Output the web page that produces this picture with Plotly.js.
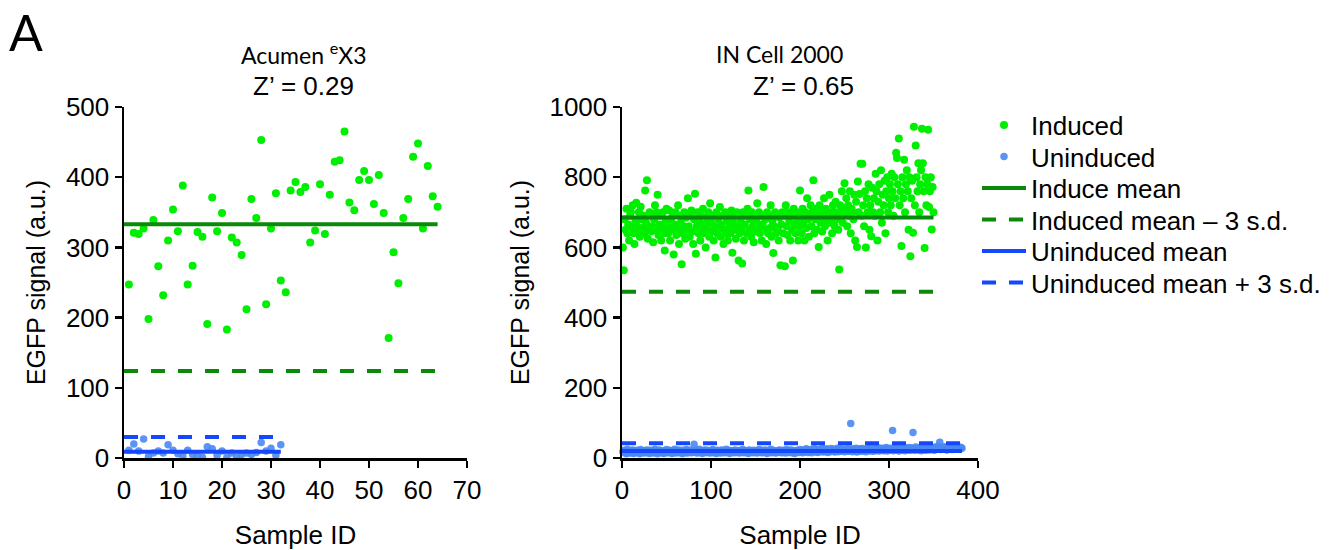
<!DOCTYPE html>
<html>
<head>
<meta charset="utf-8">
<script src="https://cdn.plot.ly/plotly-3.0.1.min.js"></script>
<style>html,body{margin:0;padding:0;background:#fff;}#chart{width:1335px;height:550px;}</style>
</head>
<body>
<div id="chart"></div>
<script>
// ---------- Data ----------
// Left panel: Acumen eX3
const acumenInduced = [247, 321, 319, 327, 198, 339, 273, 232, 310, 354,
  323, 388, 247, 274, 322, 315, 191, 371, 323, 349,
  183, 314, 307, 289, 212, 369, 342, 453, 219, 327,
  377, 253, 236, 381, 393, 379, 386, 307, 324, 390,
  319, 375, 422, 424, 465, 364, 353, 396, 409, 396,
  362, 403, 349, 171, 293, 249, 342, 369, 429, 448,
  327, 416, 373, 358];
const acumenUninduced = [11, 20, 10, 27, 2, 7, 10, 7, 19, 11, 6, 3, 11, 5, 3, 1,
  16, 13, 4, 10, 1, 7, 1, 5, 7, 5, 8, 22, 10, 14, 4, 19];
const acumenInducedMean = 333;
const acumenInducedMinus3sd = 124;
const acumenUninducedMean = 9;
const acumenUninducedPlus3sd = 30;

// Right panel: IN Cell 2000
const incellInduced = [
  600, 535, 680, 650, 710, 640, 665, 620, 690, 700, 655, 720, 640, 610, 675, 727, 660, 645, 700, 630, 716, 680, 655, 690, 640,
  762, 670, 791, 625, 650, 700, 690, 645, 660, 615, 680, 720, 650, 700, 750, 635, 665, 690, 620, 655, 700, 640, 591, 675, 710,
  660, 640, 705, 620, 680, 650, 690, 580, 665, 700, 635, 655, 720, 610, 690, 670, 552, 640, 660, 700, 625, 685, 650, 740, 660,
  630, 690, 705, 645, 610, 680, 753, 582, 660, 700, 640, 675, 620, 690, 655, 710, 640, 665, 600, 685, 650, 700, 630, 726, 670,
  645, 690, 620, 660, 571, 700, 640, 680, 655, 715, 630, 665, 690, 610, 650, 700, 640, 675, 620, 690, 660, 640, 705, 585, 670,
  650, 690, 625, 700, 660, 563, 640, 680, 655, 554, 700, 620, 665, 690, 640, 710, 762, 650, 680, 630, 700, 660, 615, 690, 645,
  675, 726, 655, 700, 640, 690, 620, 665, 772, 650, 680, 610, 700, 640, 690, 655, 720, 630, 675, 584, 660, 700, 640, 690, 650,
  620, 685, 549, 665, 700, 640, 690, 546, 720, 660, 635, 700, 675, 620, 690, 650, 563, 710, 665, 640, 700, 680, 620, 660, 762,
  690, 640, 710, 670, 620, 700, 655, 740, 680, 630, 690, 720, 660, 700, 791, 640, 680, 710, 650, 690, 601, 720, 670, 700, 645,
  690, 740, 660, 710, 680, 620, 700, 750, 670, 690, 640, 720, 700, 660, 730, 680, 700, 650, 537, 720, 690, 760, 670, 710, 783,
  700, 740, 660, 720, 690, 760, 640, 710, 700, 680, 750, 620, 730, 601, 788, 700, 752, 838, 690, 838, 720, 660, 760, 600, 740,
  700, 780, 650, 720, 632, 770, 700, 740, 690, 810, 760, 620, 730, 780, 700, 820, 670, 750, 720, 790, 640, 760, 800, 700, 740,
  780, 720, 810, 760, 690, 800, 740, 870, 855, 780, 910, 720, 760, 604, 800, 740, 850, 700, 780, 820, 760, 650, 800, 575, 740,
  790, 642, 944, 720, 890, 800, 760, 840, 700, 780, 820, 938, 840, 760, 598, 800, 720, 780, 935, 715, 760, 800, 651, 772, 700];
const incellUninduced = [
  18, 22, 15, 20, 12, 25, 17, 19, 14, 21, 16, 23, 13, 18, 20, 15, 22, 17, 19, 12, 24, 16, 18, 21, 14,
  20, 17, 23, 15, 19, 13, 22, 18, 16, 21, 14, 25, 17, 20, 12, 19, 23, 16, 18, 15, 21, 13, 20, 17, 24,
  15, 19, 22, 16, 18, 13, 21, 17, 25, 14, 20, 18, 23, 15, 19, 16, 22, 12, 18, 20, 17, 24, 14, 21, 16,
  19, 23, 15, 18, 20, 39, 17, 22, 14, 19, 16, 25, 18, 21, 13, 20, 17, 23, 15, 19, 22, 16, 18, 14, 21,
  17, 24, 15, 20, 18, 13, 22, 16, 19, 21, 14, 23, 17, 20, 15, 18, 25, 16, 19, 22, 13, 18, 21, 17, 20,
  15, 23, 18, 16, 21, 19, 14, 22, 17, 20, 24, 15, 18, 21, 16, 19, 13, 23, 17, 20, 18, 15, 22, 16, 19,
  21, 14, 18, 24, 17, 20, 15, 22, 19, 16, 23, 18, 13, 21, 17, 20, 25, 15, 19, 22, 16, 18, 14, 21, 17,
  20, 23, 16, 19, 15, 22, 18, 21, 14, 24, 17, 20, 16, 19, 23, 15, 18, 21, 13, 20, 17, 22, 19, 16, 24,
  18, 21, 15, 23, 19, 17, 26, 20, 16, 22, 18, 24, 15, 21, 19, 27, 17, 23, 20, 16, 25, 18, 22, 19, 28,
  17, 24, 21, 19, 26, 16, 23, 20, 18, 27, 22, 19, 25, 17, 24, 21, 28, 18, 23, 20, 26, 19, 22, 25, 18,
  24, 21, 27, 19, 23, 20, 98, 26, 18, 22, 25, 20, 28, 17, 24, 21, 26, 19, 23, 27, 20, 25, 22, 18, 26,
  23, 28, 20, 25, 22, 30, 19, 24, 27, 21, 26, 23, 29, 20, 25, 22, 28, 24, 21, 27, 23, 30, 20, 26, 24,
  22, 28, 25, 78, 21, 27, 24, 30, 23, 26, 20, 29, 25, 22, 31, 24, 27, 21, 28, 25, 23, 30, 26, 22, 29,
  24, 73, 27, 22, 31, 25, 28, 23, 30, 26, 21, 29, 24, 32, 27, 22, 28, 25, 31, 23, 27, 30, 24, 29, 26,
  22, 31, 28, 25, 33, 27, 45, 24, 30, 26, 29, 32, 25, 28, 23, 31, 27, 34, 26, 29, 24, 32, 28, 30, 25,
  33, 27, 29, 31, 26, 30, 28];
const incellInducedMean = 685;
const incellInducedMinus3sd = 474;
const incellUninducedMean = 20;
const incellUninducedPlus3sd = 42;

// Panel titles and labels
const panelTitles = ['Acumen <sup>e</sup>X3', 'IN Cell 2000'];
const panelZ = ["Z\u2019 = 0.29", "Z\u2019 = 0.65"];
const seriesNames = ['Induced', 'Uninduced', 'Induce mean', 'Induced mean \u2013 3 s.d.', 'Uninduced mean', 'Uninduced mean + 3 s.d.'];

// ---------- Styling ----------
const W = 1335, H = 550;
const GREEN_PT = '#00ee00', BLUE_PT = '#4a88f2';
const GREEN_LN = '#0a8a0a', BLUE_LN = '#1447ff';
const FONT = 'Arial, Liberation Sans, sans-serif';
const ids = arr => arr.map((_, i) => i + 1);
const span = arr => [0, arr.length];
const legendIds = ['legend', 'legend2', 'legend3', 'legend4', 'legend5', 'legend6'];
const legendRowY = [125, 156.5, 188, 219.5, 251, 282.5];

function panelTraces(ind, unind, iMean, iLow, uMean, uHigh, xa, ya, show) {
  const sx = ids(ind), ux = ids(unind);
  const tr = [
    {x: sx, y: ind, mode: 'markers', marker: {color: GREEN_PT, size: 8}, cliponaxis: false},
    {x: ux, y: unind, mode: 'markers', marker: {color: BLUE_PT, size: 7.5, opacity: 0.9}, cliponaxis: false},
    {x: span(ind), y: [iMean, iMean], mode: 'lines', line: {color: GREEN_LN, width: 4}},
    {x: span(ind), y: [iLow, iLow], mode: 'lines', line: {color: GREEN_LN, width: 4, dash: '14px,13px'}},
    {x: span(unind), y: [uMean, uMean], mode: 'lines', line: {color: BLUE_LN, width: 4}},
    {x: span(unind), y: [uHigh, uHigh], mode: 'lines', line: {color: BLUE_LN, width: 4, dash: '14px,13px'}}
  ];
  return tr.map((t, i) => Object.assign(t, {type: 'scatter', xaxis: xa, yaxis: ya, name: seriesNames[i],
    showlegend: show, legend: legendIds[i]}));
}

const data = [
  ...panelTraces(acumenInduced, acumenUninduced, acumenInducedMean, acumenInducedMinus3sd, acumenUninducedMean, acumenUninducedPlus3sd, 'x', 'y', true),
  ...panelTraces(incellInduced, incellUninduced, incellInducedMean, incellInducedMinus3sd, incellUninducedMean, incellUninducedPlus3sd, 'x2', 'y2', false)
];

const axisBase = {
  showline: true, linecolor: '#000', linewidth: 2.5, ticks: 'outside', ticklen: 7, tickwidth: 2.5, tickcolor: '#000',
  showgrid: false, zeroline: false, tickfont: {family: FONT, size: 26, color: '#000'}, fixedrange: true
};
const yDom = [(H - 458) / H, (H - 107) / H];

const layout = {
  width: W, height: H,
  margin: {l: 0, r: 0, t: 0, b: 0},
  paper_bgcolor: '#fff', plot_bgcolor: '#fff',
  font: {family: FONT, color: '#000'},
  showlegend: true,
  xaxis: Object.assign({}, axisBase, {domain: [124 / W, 467 / W], range: [0, 70], dtick: 10, tick0: 0, anchor: 'y',
    title: {text: 'Sample ID', font: {family: FONT, size: 26}, standoff: 22}}),
  yaxis: Object.assign({}, axisBase, {domain: yDom, range: [0, 500], dtick: 100, tick0: 0, anchor: 'x',
    title: {text: 'EGFP signal (a.u.)', font: {family: FONT, size: 25}, standoff: 13}}),
  xaxis2: Object.assign({}, axisBase, {domain: [622 / W, 978 / W], range: [0, 400], dtick: 100, tick0: 0, anchor: 'y2',
    title: {text: 'Sample ID', font: {family: FONT, size: 26}, standoff: 22}}),
  yaxis2: Object.assign({}, axisBase, {domain: yDom, range: [0, 1000], dtick: 200, tick0: 0, anchor: 'x2',
    title: {text: 'EGFP signal (a.u.)', font: {family: FONT, size: 25}, standoff: 13}}),
  annotations: [
    {text: 'A', xref: 'paper', yref: 'paper', x: 7 / W, y: 1, xanchor: 'left', yanchor: 'top', showarrow: false,
     font: {family: 'Lato, Open Sans, sans-serif', size: 50, color: '#000'}},
    {text: panelTitles[0], xref: 'paper', yref: 'paper', x: 304 / W, y: 1 - 54 / H, xanchor: 'center', yanchor: 'middle', showarrow: false,
     font: {family: 'Lato, Open Sans, sans-serif', size: 23, color: '#000'}},
    {text: panelZ[0], xref: 'paper', yref: 'paper', x: 303 / W, y: 1 - 86 / H, xanchor: 'center', yanchor: 'middle', showarrow: false,
     font: {family: FONT, size: 26, color: '#000'}},
    {text: panelTitles[1], xref: 'paper', yref: 'paper', x: 779 / W, y: 1 - 54 / H, xanchor: 'center', yanchor: 'middle', showarrow: false,
     font: {family: 'Lato, Open Sans, sans-serif', size: 23, color: '#000'}},
    {text: panelZ[1], xref: 'paper', yref: 'paper', x: 803 / W, y: 1 - 86 / H, xanchor: 'center', yanchor: 'middle', showarrow: false,
     font: {family: FONT, size: 26, color: '#000'}}
  ]
};

legendIds.forEach((id, i) => {
  layout[id] = {x: 977 / W, y: 1 - legendRowY[i] / H, xanchor: 'left', yanchor: 'middle',
    font: {family: FONT, size: 26, color: '#000'}, bgcolor: 'rgba(0,0,0,0)', itemwidth: 44, tracegroupgap: 0};
});

Plotly.newPlot('chart', data, layout, {staticPlot: true, displayModeBar: false});
</script>
</body>
</html>
